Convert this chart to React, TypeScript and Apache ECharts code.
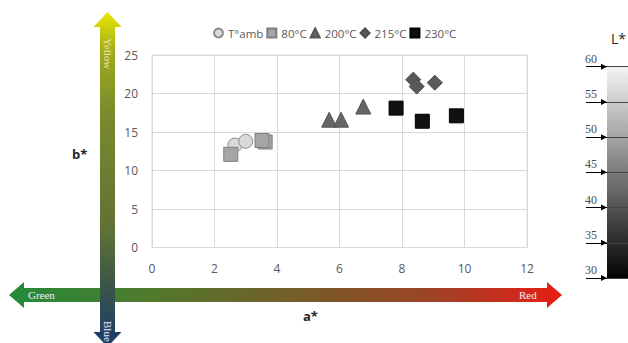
import { useEffect, useRef } from "react";
import * as echarts from "echarts";

const seriesNames = ["T°amb", "80°C", "200°C", "215°C", "230°C"];
const tAmbPts = [[2.65, 13.3], [3.0, 13.8]];
const c80Pts = [[2.52, 12.1], [3.62, 13.7], [3.52, 13.9]];
const c200Pts = [[5.67, 16.6], [6.05, 16.6], [6.76, 18.3]];
const c215Pts = [[8.36, 21.8], [9.05, 21.4], [8.47, 20.9]];
const c230Pts = [[7.81, 18.1], [8.65, 16.4], [9.74, 17.1]];
const xRange = [0, 12, 2];
const yRange = [0, 25, 5];
const lRange = [30, 60, 5];
const lMarkers = [30, 35, 40, 45, 50, 55, 60];

const FONT = "'Open Sans', sans-serif";
const SERIF = "'Liberation Serif', serif";

export default function App() {
  const ref = useRef<HTMLDivElement>(null);
  useEffect(() => {
    const chart = echarts.init(ref.current!, null, { renderer: "svg" });
    const vGrad = new echarts.graphic.LinearGradient(0, 0, 0, 1, [
      { offset: 0, color: "#e8e800" },
      { offset: 0.12, color: "#9fab1e" },
      { offset: 0.3, color: "#7a8a2e" },
      { offset: 0.65, color: "#5f7235" },
      { offset: 0.82, color: "#3a5548" },
      { offset: 1, color: "#1b3a6e" },
    ]);
    const hGrad = new echarts.graphic.LinearGradient(0, 0, 1, 0, [
      { offset: 0, color: "#228a3a" },
      { offset: 0.25, color: "#4f7a2c" },
      { offset: 0.5, color: "#725f28" },
      { offset: 0.75, color: "#9a4528" },
      { offset: 1, color: "#e81c14" },
    ]);
    const hx0 = 9, hx1 = 562, hy = 295, hs = 7, hh = 13, hl = 15;
    const vx = 107.5, vy0 = 12, vy1 = 347, vs = 7.5, vh = 14, vl = 15;
    const sym = (fill: string, border: string) => ({ color: fill, borderColor: border, borderWidth: 1, opacity: 1 });
    chart.setOption({
      animation: false,
      legend: {
        selectedMode: false,
        left: 208,
        top: 22,
        itemWidth: 9,
        itemHeight: 9,
        itemGap: 3,
        textStyle: { fontFamily: FONT, fontSize: 11.5, color: "#595959" },
        data: [
          { name: seriesNames[0], icon: "circle" },
          { name: seriesNames[1], icon: "rect" },
          { name: seriesNames[2], icon: "triangle" },
          { name: seriesNames[3], icon: "diamond" },
          { name: seriesNames[4], icon: "rect" },
        ],
      },
      grid: [
        { left: 152, top: 55, width: 375, height: 192.5, show: true, borderColor: "#d9d9d9", borderWidth: 1 },
        {
          left: 607, top: 66.7, width: 40, height: 211.3, show: true, borderWidth: 0,
          backgroundColor: new echarts.graphic.LinearGradient(0, 0, 0, 1, [
            { offset: 0, color: "#f4f4f4" },
            { offset: 1, color: "#030303" },
          ]),
        },
      ],
      xAxis: [
        {
          gridIndex: 0, type: "value", min: xRange[0], max: xRange[1], interval: xRange[2],
          axisLine: { show: false }, axisTick: { show: false },
          splitLine: { lineStyle: { color: "#d9d9d9" } },
          axisLabel: { fontFamily: FONT, fontSize: 12, color: "#595959", margin: 15 },
        },
        { gridIndex: 1, type: "value", min: 0, max: 1, show: false },
      ],
      yAxis: [
        {
          gridIndex: 0, type: "value", min: yRange[0], max: yRange[1], interval: yRange[2],
          axisLine: { show: false }, axisTick: { show: false },
          splitLine: { lineStyle: { color: "#d9d9d9" } },
          axisLabel: { fontFamily: FONT, fontSize: 12, color: "#595959", margin: 14 },
        },
        {
          gridIndex: 1, type: "value", min: lRange[0], max: lRange[1], interval: lRange[2],
          axisLine: { show: false },
          axisTick: { show: true, length: 21, lineStyle: { color: "#000", width: 1 } },
          splitLine: { show: true, lineStyle: { color: "#444", width: 1 } },
          axisLabel: {
            fontFamily: SERIF, fontSize: 12, color: "#4d4d4d", margin: 10,
            verticalAlign: "bottom", padding: [0, 0, 2, 0],
          },
        },
      ],
      series: [
        { name: seriesNames[0], type: "scatter", symbol: "circle", symbolSize: 14, data: tAmbPts, itemStyle: sym("#d9d9d9", "#8c8c8c") },
        { name: seriesNames[1], type: "scatter", symbol: "rect", symbolSize: 14, data: c80Pts, itemStyle: sym("#a6a6a6", "#7f7f7f") },
        { name: seriesNames[2], type: "scatter", symbol: "triangle", symbolSize: 15, data: c200Pts, itemStyle: sym("#666666", "#555555") },
        { name: seriesNames[3], type: "scatter", symbol: "diamond", symbolSize: 15, data: c215Pts, itemStyle: sym("#595959", "#4a4a4a") },
        { name: seriesNames[4], type: "scatter", symbol: "rect", symbolSize: 14, data: c230Pts, itemStyle: sym("#111111", "#000000") },
        {
          name: "Lmarks", type: "scatter", xAxisIndex: 1, yAxisIndex: 1, symbol: "triangle", symbolSize: [6, 6],
          symbolRotate: -90, symbolOffset: [-3, 0], data: lMarkers.map((v) => [0, v]),
          itemStyle: { color: "#000", opacity: 1 }, clip: false, silent: true,
        },
      ],
      graphic: [
        {
          type: "polygon", z: 1,
          shape: {
            points: [
              [hx0, hy], [hx0 + hl, hy - hh], [hx0 + hl, hy - hs], [hx1 - hl, hy - hs], [hx1 - hl, hy - hh],
              [hx1, hy], [hx1 - hl, hy + hh], [hx1 - hl, hy + hs], [hx0 + hl, hy + hs], [hx0 + hl, hy + hh],
            ],
          },
          style: { fill: hGrad },
        },
        {
          type: "polygon", z: 2,
          shape: {
            points: [
              [vx, vy0], [vx + vh, vy0 + vl], [vx + vs, vy0 + vl], [vx + vs, vy1 - vl], [vx + vh, vy1 - vl],
              [vx, vy1], [vx - vh, vy1 - vl], [vx - vs, vy1 - vl], [vx - vs, vy0 + vl], [vx - vh, vy0 + vl],
            ],
          },
          style: { fill: vGrad },
        },
        { type: "text", z: 3, x: 28, y: 295, style: { text: "Green", fill: "#f0f0f0", font: `11px ${SERIF}`, verticalAlign: "middle" } },
        { type: "text", z: 3, x: 519, y: 295, style: { text: "Red", fill: "#f0f0f0", font: `11px ${SERIF}`, verticalAlign: "middle" } },
        { type: "text", z: 3, x: 108, y: 38, rotation: -Math.PI / 2, style: { text: "Yellow", fill: "#efe3a8", font: `11px ${SERIF}`, verticalAlign: "middle" } },
        { type: "text", z: 3, x: 108, y: 321, rotation: -Math.PI / 2, style: { text: "Blue", fill: "#e6e6f0", font: `11px ${SERIF}`, verticalAlign: "middle" } },
        { type: "text", x: 72, y: 154, style: { text: "b*", fill: "#262626", font: `bold 13px ${FONT}`, verticalAlign: "middle" } },
        { type: "text", x: 303, y: 316, style: { text: "a*", fill: "#262626", font: `bold 13px ${FONT}`, verticalAlign: "middle" } },
        { type: "text", x: 611, y: 38, style: { text: "L*", fill: "#262626", font: `14px ${FONT}`, verticalAlign: "middle" } },
      ],
    });
    return () => chart.dispose();
  }, []);
  return <div ref={ref} style={{ position: "absolute", left: 0, top: 0, width: 628, height: 343 }} />;
}
